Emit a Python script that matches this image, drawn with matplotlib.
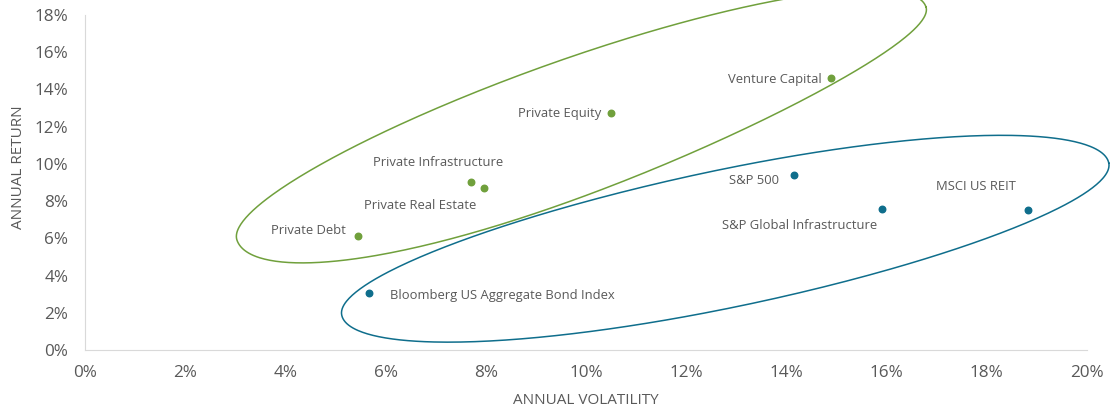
import numpy as np
import matplotlib.pyplot as plt
import matplotlib.transforms as mtransforms
from matplotlib.ticker import FuncFormatter

plt.rcParams['font.family'] = ['Open Sans', 'DejaVu Sans']

# private markets (green)
priv_names = ["Private Debt", "Private Infrastructure", "Private Real Estate",
              "Private Equity", "Venture Capital"]
priv_vol = [5.45, 7.7, 7.96, 10.5, 14.9]
priv_ret = [6.1, 9.05, 8.7, 12.75, 14.6]

# public markets (blue)
pub_names = ["Bloomberg US Aggregate Bond Index", "S&P 500",
             "S&P Global Infrastructure", "MSCI US REIT"]
pub_vol = [5.67, 14.15, 15.9, 18.82]
pub_ret = [3.08, 9.4, 7.6, 7.5]

green = "#70a03c"
blue = "#0f6e8c"
grey = "#595959"

fig = plt.figure(figsize=(11.12, 4.12), dpi=100)
ax = fig.add_axes([0.0764, 0.1505, 0.9011, 0.8131])

ax.scatter(priv_vol, priv_ret, s=22, color=green, zorder=3)
ax.scatter(pub_vol, pub_ret, s=22, color=blue, zorder=3)

# label offsets in pixels (ha, dx, dy)
priv_off = [("right", -12, 6), ("center", -33, 19), ("center", -64, -17),
            ("right", -10, -1), ("right", -10, -1)]
pub_off = [("left", 21, -3), ("right", -15, -5), ("right", -4, -17),
           ("right", -12, 24)]

for n, x, y, (ha, dx, dy) in zip(priv_names, priv_vol, priv_ret, priv_off):
    ax.annotate(n, (x, y), xytext=(dx, dy), textcoords="offset pixels",
                ha=ha, va="center", fontsize=9.4, color=grey)
for n, x, y, (ha, dx, dy) in zip(pub_names, pub_vol, pub_ret, pub_off):
    ax.annotate(n, (x, y), xytext=(dx, dy), textcoords="offset pixels",
                ha=ha, va="center", fontsize=9.4, color=grey)


# egg-ish loop: centre in data units, half-length / half-widths in inches
def ring(cx, cy, a, b_up, k_up, b_lo, k_lo, ang, col):
    t = np.linspace(0, 2 * np.pi, 500)
    c, s = np.cos(t), np.sin(t)
    xr = a * c
    yr = np.where(s >= 0, b_up * (1 + k_up * c), b_lo * (1 + k_lo * c)) * s
    th = np.radians(ang)
    xs = xr * np.cos(th) - yr * np.sin(th)
    ys = xr * np.sin(th) + yr * np.cos(th)
    tr = fig.dpi_scale_trans + mtransforms.ScaledTranslation(cx, cy, ax.transData)
    ax.plot(xs, ys, color=col, lw=1.1, transform=tr, clip_on=False)


ring(9.91, 12.17, 3.637, 0.665, 0.05, 0.69, -0.2, 18.7, green)
ring(12.78, 5.96, 3.91, 0.69, 0.06, 0.685, -0.05, 11.2, blue)

ax.set_xlim(0, 20)
ax.set_ylim(0, 18)
ax.set_xticks(range(0, 21, 2))
ax.set_yticks(range(0, 19, 2))
pct = FuncFormatter(lambda v, p: f"{v:.0f}%")
ax.xaxis.set_major_formatter(pct)
ax.yaxis.set_major_formatter(pct)
ax.tick_params(length=0, labelsize=12.3, labelcolor=grey)
ax.tick_params(axis="x", pad=11)
ax.tick_params(axis="y", pad=12)

for s in ["top", "right"]:
    ax.spines[s].set_visible(False)
for s in ["left", "bottom"]:
    ax.spines[s].set_color("#d9d9d9")

ax.set_xlabel("ANNUAL VOLATILITY", fontsize=11, color=grey, labelpad=8.5)
fig.text(19 / 1112, 1 - 167 / 412, "ANNUAL RETURN", rotation=90,
         ha="center", va="center", fontsize=11, color=grey)

fig.savefig("out.png", dpi=100)
